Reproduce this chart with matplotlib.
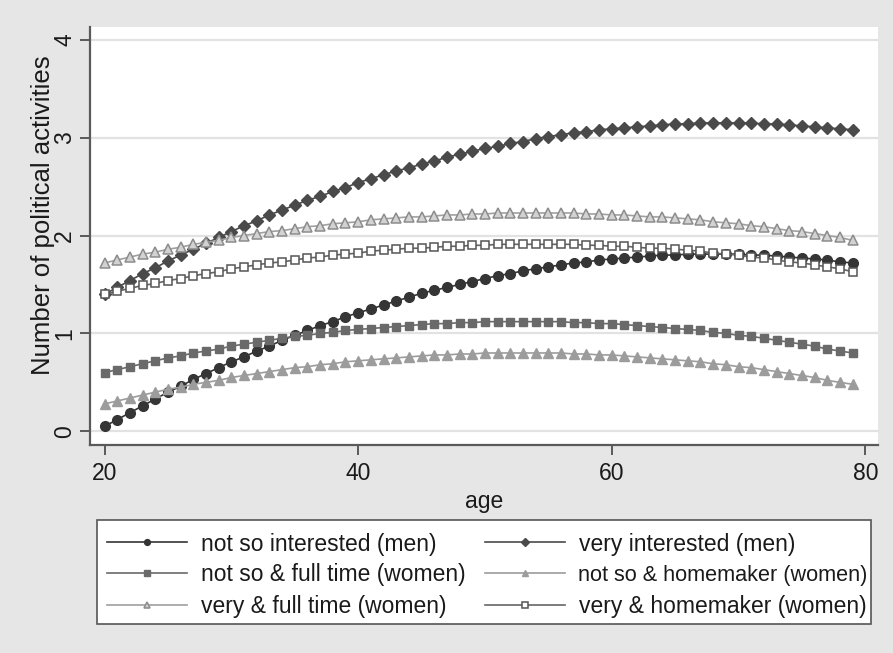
import matplotlib
matplotlib.use("Agg")
import matplotlib.pyplot as plt
from matplotlib.patches import Rectangle

plt.rcParams['font.family'] = ['Liberation Sans', 'DejaVu Sans']

ages = list(range(20, 80))

not_so_men = [0.05, 0.12, 0.19, 0.26, 0.33, 0.40, 0.46, 0.53, 0.59, 0.65,
              0.71, 0.76, 0.82, 0.87, 0.93, 0.98, 1.03, 1.08, 1.12, 1.17,
              1.21, 1.25, 1.29, 1.33, 1.37, 1.41, 1.44, 1.47, 1.50, 1.53,
              1.56, 1.59, 1.61, 1.64, 1.66, 1.68, 1.70, 1.72, 1.73, 1.75,
              1.76, 1.77, 1.78, 1.79, 1.80, 1.80, 1.81, 1.81, 1.81, 1.81,
              1.81, 1.80, 1.80, 1.79, 1.78, 1.77, 1.76, 1.75, 1.73, 1.72]

very_men = [1.40, 1.47, 1.54, 1.61, 1.67, 1.74, 1.80, 1.86, 1.92, 1.98,
            2.04, 2.10, 2.15, 2.21, 2.26, 2.31, 2.36, 2.40, 2.45, 2.49,
            2.54, 2.58, 2.62, 2.66, 2.69, 2.73, 2.76, 2.80, 2.83, 2.86,
            2.89, 2.91, 2.94, 2.96, 2.99, 3.01, 3.03, 3.05, 3.06, 3.08,
            3.09, 3.10, 3.11, 3.12, 3.13, 3.14, 3.14, 3.15, 3.15, 3.15,
            3.15, 3.15, 3.14, 3.14, 3.13, 3.12, 3.11, 3.10, 3.09, 3.08]

not_so_fulltime = [0.60, 0.63, 0.66, 0.69, 0.72, 0.75, 0.77, 0.80, 0.82, 0.84,
                   0.87, 0.89, 0.91, 0.93, 0.95, 0.97, 0.98, 1.00, 1.01, 1.03,
                   1.04, 1.05, 1.06, 1.07, 1.08, 1.09, 1.10, 1.10, 1.11, 1.11,
                   1.12, 1.12, 1.12, 1.12, 1.12, 1.12, 1.12, 1.11, 1.11, 1.10,
                   1.10, 1.09, 1.08, 1.07, 1.06, 1.05, 1.04, 1.03, 1.01, 1.00,
                   0.98, 0.97, 0.95, 0.93, 0.91, 0.89, 0.87, 0.84, 0.82, 0.80]

not_so_homemaker = [0.28, 0.31, 0.34, 0.37, 0.40, 0.43, 0.45, 0.48, 0.50, 0.52,
                    0.55, 0.57, 0.59, 0.61, 0.63, 0.65, 0.66, 0.68, 0.69, 0.71,
                    0.72, 0.73, 0.74, 0.75, 0.76, 0.77, 0.78, 0.78, 0.79, 0.79,
                    0.80, 0.80, 0.80, 0.80, 0.80, 0.80, 0.80, 0.79, 0.79, 0.78,
                    0.78, 0.77, 0.76, 0.75, 0.74, 0.73, 0.72, 0.71, 0.69, 0.68,
                    0.66, 0.65, 0.63, 0.61, 0.59, 0.57, 0.55, 0.52, 0.50, 0.48]

very_fulltime = [1.72, 1.75, 1.78, 1.81, 1.83, 1.86, 1.88, 1.91, 1.93, 1.95,
                 1.98, 2.00, 2.02, 2.04, 2.05, 2.07, 2.09, 2.10, 2.12, 2.13,
                 2.14, 2.16, 2.17, 2.18, 2.19, 2.19, 2.20, 2.21, 2.21, 2.22,
                 2.22, 2.23, 2.23, 2.23, 2.23, 2.23, 2.23, 2.23, 2.22, 2.22,
                 2.21, 2.21, 2.20, 2.19, 2.19, 2.18, 2.17, 2.16, 2.14, 2.13,
                 2.12, 2.10, 2.09, 2.07, 2.05, 2.04, 2.02, 2.00, 1.98, 1.95]

very_homemaker = [1.40, 1.43, 1.46, 1.49, 1.51, 1.54, 1.56, 1.59, 1.61, 1.63,
                  1.66, 1.68, 1.70, 1.72, 1.73, 1.75, 1.77, 1.78, 1.80, 1.81,
                  1.82, 1.84, 1.85, 1.86, 1.87, 1.87, 1.88, 1.89, 1.89, 1.90,
                  1.90, 1.91, 1.91, 1.91, 1.91, 1.91, 1.91, 1.91, 1.90, 1.90,
                  1.89, 1.89, 1.88, 1.87, 1.87, 1.86, 1.85, 1.84, 1.82, 1.81,
                  1.80, 1.78, 1.77, 1.75, 1.73, 1.72, 1.70, 1.68, 1.66, 1.63]

labels = ["not so interested (men)", "very interested (men)",
          "not so & full time (women)", "not so & homemaker (women)",
          "very & full time (women)", "very & homemaker (women)"]

x_ticks = [20, 40, 60, 80]
y_ticks = [0, 1, 2, 3, 4]

FS = 16.5
W, H = 893, 653

fig = plt.figure(figsize=(8.93, 6.53), dpi=100, facecolor='#e6e6e6')
ax = fig.add_axes([90/W, 1-445/H, (878-90)/W, (445-27)/H])
ax.set_facecolor('white')

ms = 7.0
lw = 1.2
h1, = ax.plot(ages, not_so_men, color='#353535', marker='o', ms=ms, lw=lw,
              mec='#353535', mfc='#353535')
h2, = ax.plot(ages, very_men, color='#4a4a4a', marker='D', ms=ms-0.8, lw=lw,
              mec='#4a4a4a', mfc='#4a4a4a')
h3, = ax.plot(ages, not_so_fulltime, color='#6a6a6a', marker='s', ms=ms-0.6, lw=lw,
              mec='#6a6a6a', mfc='#6a6a6a')
h4, = ax.plot(ages, not_so_homemaker, color='#9c9c9c', marker='^', ms=ms+0.6, lw=lw,
              mec='#9c9c9c', mfc='#9c9c9c')
h5, = ax.plot(ages, very_fulltime, color='#a0a0a0', marker='^', ms=ms+0.6, lw=lw,
              mec='#8c8c8c', mfc='#d2d2d2', mew=1.1)
h6, = ax.plot(ages, very_homemaker, color='#666666', marker='s', ms=ms-0.6, lw=lw,
              mec='#555555', mfc='white', mew=1.1)

ax.set_xlim(18.85, 81.0)
ax.set_ylim(-0.14, 4.13)
ax.set_xticks(x_ticks)
ax.set_yticks(y_ticks)
ax.grid(axis='y', color='#e2e2e2', lw=1.6)
ax.set_axisbelow(True)
for s in ['top', 'right']:
    ax.spines[s].set_visible(False)
for s in ['left', 'bottom']:
    ax.spines[s].set_color('#5a5a5a')
    ax.spines[s].set_linewidth(1.6)
ax.tick_params(axis='both', length=7, width=1.4, color='#5a5a5a',
               labelsize=FS, labelcolor='#1a1a1a', pad=5)
ax.tick_params(axis='y', pad=3)
for lab in ax.get_yticklabels():
    lab.set_rotation(90)
    lab.set_va('center')
ax.set_xlabel('age', fontsize=FS, color='#1a1a1a', labelpad=4)
ax.set_ylabel('Number of political activities', fontsize=18.5, color='#1a1a1a')
ax.yaxis.set_label_coords((43 - 90) / 788, (445 - 215) / 418)
ax.yaxis.label.set_va('center')

# legend box drawn as a figure rectangle (text in 2nd column slightly overflows, as in the reference)
fig.patches.append(Rectangle((97/W, 1-624/H), (871-97)/W, (624-520)/H,
                             transform=fig.transFigure, facecolor='white',
                             edgecolor='#555555', lw=1.2, zorder=1))

# one small legend per entry, laid out row-wise like the reference (2 columns x 3 rows)
handles = [h1, h2, h3, h4, h5, h6]
col_x = [107, 485]
row_y = [544, 575, 607]
for i, (h, lab) in enumerate(zip(handles, labels)):
    r, c = divmod(i, 2)
    fsz = 15.6 if lab.startswith('not so & homemaker') else FS
    lg = fig.legend([h], [lab], loc='center left',
                    bbox_to_anchor=(col_x[c]/W, 1-row_y[r]/H),
                    fontsize=fsz, frameon=False, handlelength=3.5*FS/fsz,
                    handletextpad=0.6, borderpad=0, markerscale=0.6,
                    borderaxespad=0)
    lg.set_zorder(3)
    for t in lg.get_texts():
        t.set_color('#1a1a1a')

fig.savefig('out.png', dpi=100, facecolor=fig.get_facecolor())
